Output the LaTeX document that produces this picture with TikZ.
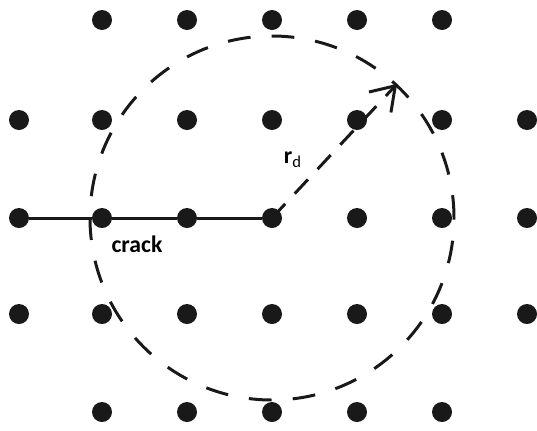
\documentclass[tikz,border=0pt]{standalone}
\usepackage{fontspec}
\setmainfont{Carlito}
\usepackage{tikz}
\usetikzlibrary{positioning}
\usetikzlibrary{arrows.meta}

\tikzset{
  atom/.style={circle, fill=black!90, minimum size=20*0.02cm, inner sep=0pt},
  rim/.style={draw=black!90, line width=1.7pt, dash pattern=on 13pt off 12pt},
  lbl/.style={font=\fontsize{13.5}{15}\selectfont, inner sep=1pt}
}

\begin{document}
\begin{tikzpicture}[x=0.02cm, y=-0.02cm]

    \useasboundingbox (0,0) rectangle (537,430);

    % lattice, rows 1 and 5 are shorter
    \foreach \c/\x in {2/102, 3/187, 4/272, 5/357, 6/442} {
        \node[atom] (a1\c) at (\x, 20) {};
        \node[atom] (a5\c) at (\x, 412) {};
    }
    \foreach \r/\y in {2/120, 3/218, 4/314} {
        \foreach \c/\x in {1/19, 2/102, 3/187, 4/272, 5/357, 6/442, 7/527} {
            \node[atom] (a\r\c) at (\x, \y) {};
        }
    }

    % crack
    \draw[line width=1.7pt, black!90] (a31) -- (a32) -- (a33) -- (a34);
    \node[lbl, font=\fontsize{13.5}{15}\selectfont\bfseries] (crack) at (137, 244) {crack};

    % zone radius
    \node[rim, circle, minimum size=364*0.02cm, inner sep=0pt] (zone) at (a34) {};
    \draw[rim, dash pattern=on 11pt off 8pt,
          -{Straight Barb[length=0.45cm, width=0.6cm, line width=1.7pt]}]
        (a34.center) -- (zone.47);
    \node[lbl] (rd) at (293, 160) {\textbf{r}\textsubscript{d}};

\end{tikzpicture}
\end{document}
